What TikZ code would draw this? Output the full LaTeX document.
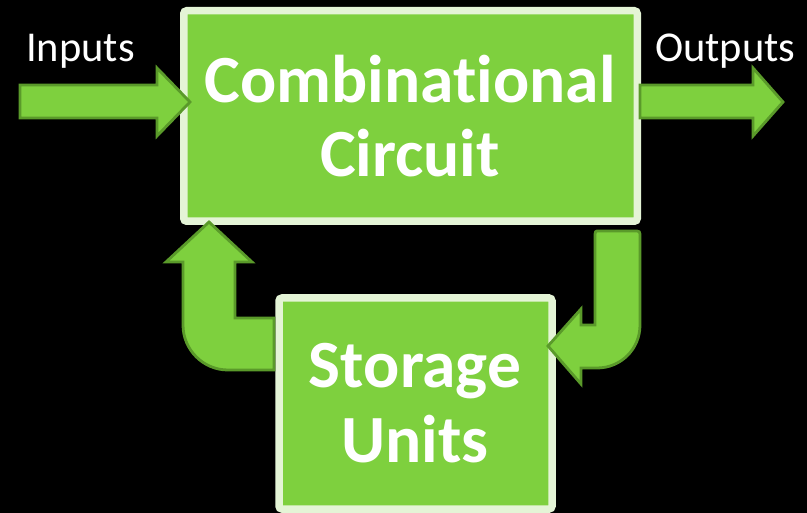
\documentclass[tikz,border=0pt]{standalone}
\usepackage{fontspec}
\setmainfont[Ligatures=NoCommon]{Carlito}
\definecolor{boxfill}{HTML}{7ED03E}
\definecolor{boxrim}{HTML}{E4F4D6}
\definecolor{arrowrim}{HTML}{5A9A2A}
\begin{document}
\begin{tikzpicture}[x=1pt,y=-1pt,
  block/.style={fill=boxfill,draw=boxrim,line width=7.5pt,rounded corners=3pt},
  fatarrow/.style={fill=boxfill,draw=arrowrim,line width=2.8pt,line join=miter},
  bigtext/.style={text=white,font=\bfseries\fontsize{67.5}{67.5}\selectfont,anchor=base,inner sep=0pt},
  smalltext/.style={text=white,font=\fontsize{42.5}{42.5}\selectfont,anchor=base west,inner sep=0pt}]
  % background
  \fill[black] (0,0) rectangle (807,513);
  \useasboundingbox (0,0) rectangle (807,513);

  % the two blocks
  \draw[block] (183.75,10.75) rectangle (637.25,221.25);
  \draw[block] (279,298) rectangle (552,509);
  \node[bigtext] (comb1) at (410,103) {Combinational};
  \node[bigtext] (comb2) at (410,177) {Circuit};
  \node[bigtext] (stor1) at (415,388) {Storage};
  \node[bigtext] (stor2) at (415,463) {Units};

  % input and output arrows
  \draw[fatarrow] (20,85) -- (157,85) -- (157,68) -- (190,102) -- (157,136)
    -- (157,118) -- (20,118) -- cycle;
  \draw[fatarrow] (640,85) -- (753,85) -- (753,68) -- (783,102) -- (753,136)
    -- (753,118) -- (640,118) -- cycle;

  % feedback: storage back to the combinational circuit
  \draw[fatarrow] (209,222) -- (252,262) -- (235,262) -- (235,318) -- (274,318)
    -- (274,370) -- (228,370) .. controls (203.2,370) and (183,349.8) .. (183,325)
    -- (183,262) -- (166,262) -- cycle;

  % circuit state into storage
  \draw[fatarrow] (597,231) -- (637,231) .. controls (639,231) and (640,232) .. (640,234)
    -- (640,325) .. controls (640,349) and (621,368) .. (597,368)
    -- (581,368) -- (581,384) -- (548,346) -- (581,309) -- (581,325) -- (595,325)
    -- (595,234) .. controls (595,232) and (596,231) .. (597,231) -- cycle;

  % labels
  \node[smalltext] (inlab) at (26,62) {Inputs};
  \node[smalltext] (outlab) at (655,62) {Outputs};
\end{tikzpicture}
\end{document}
